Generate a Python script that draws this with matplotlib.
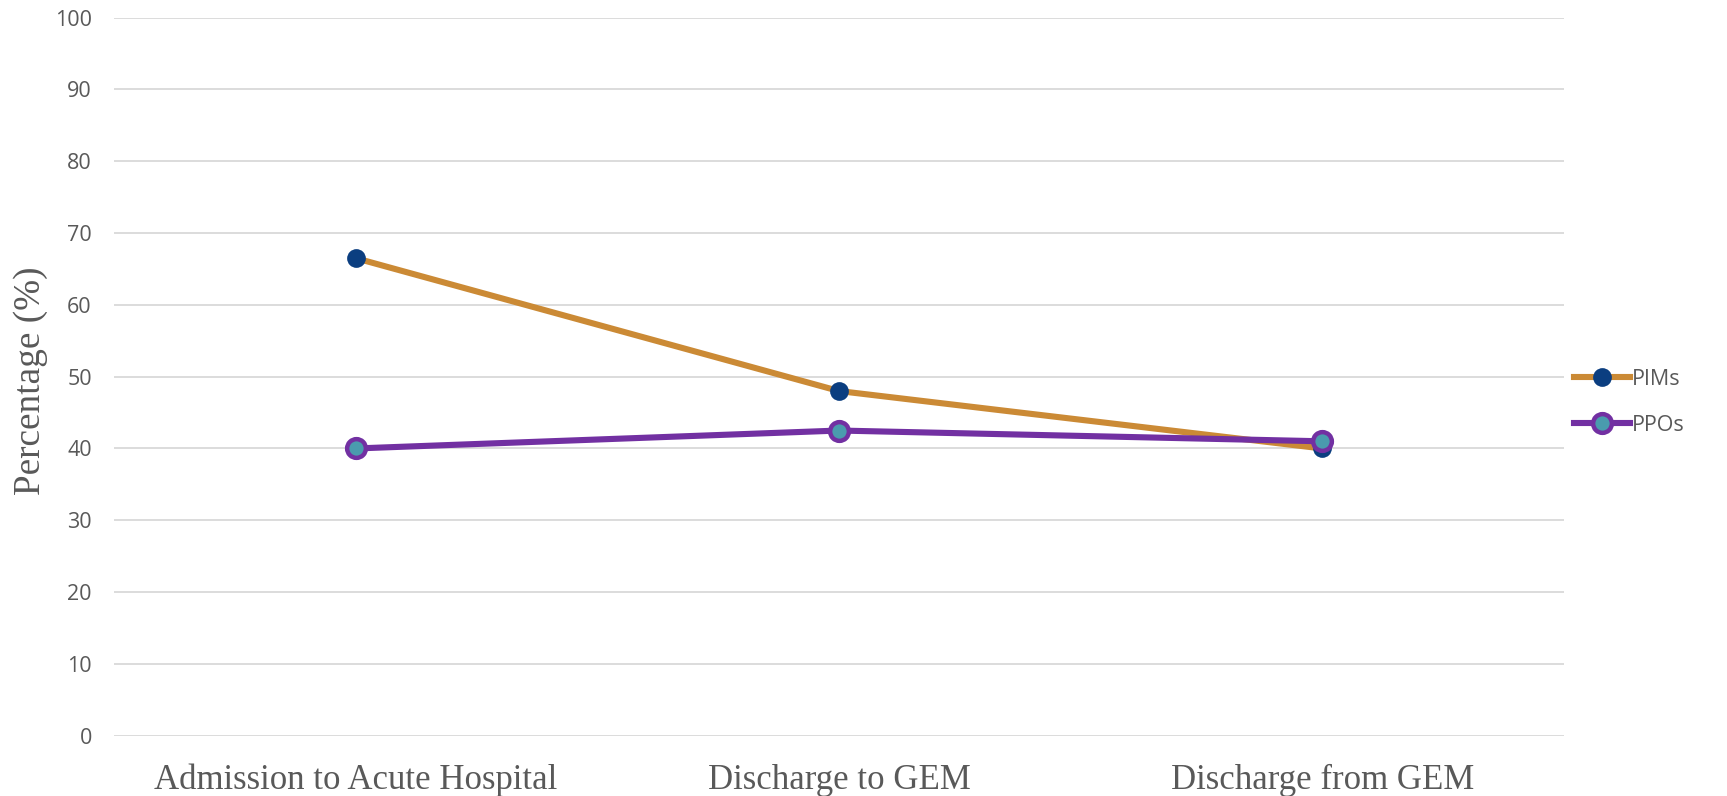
import matplotlib
matplotlib.use("Agg")
import matplotlib.pyplot as plt
from matplotlib.lines import Line2D

categories = ["Admission to Acute Hospital", "Discharge to GEM", "Discharge from GEM"]
pims = [66.5, 48, 40]
ppos = [40, 42.5, 41]
yticks = [0, 10, 20, 30, 40, 50, 60, 70, 80, 90, 100]

orange = "#CB8A35"
navy = "#0B3E80"
purple = "#7230A2"
teal = "#4A9BAE"
grid_c = "#D9D9D9"
txt_c = "#595959"

fig = plt.figure(figsize=(17.27, 7.96), dpi=100)
ax = fig.add_axes([0.066, 0.0757, 0.8396, 0.9022])

x = list(range(len(categories)))
ax.plot(x, pims, color=orange, lw=4.4, marker="o", ms=13.5,
        mfc=navy, mec=navy, mew=0, solid_capstyle="round", zorder=3, label="PIMs")
ax.plot(x, ppos, color=purple, lw=4.4, marker="o", ms=13.5,
        mfc=teal, mec=purple, mew=3.2, solid_capstyle="round", zorder=4, label="PPOs")

ax.set_xlim(-0.5, 2.5)
ax.set_ylim(0, 100)
ax.set_yticks(yticks)
ax.set_xticks(x)
ax.set_xticklabels(categories, family="Liberation Serif", fontsize=25, color=txt_c)
ax.tick_params(axis="y", length=0, pad=16, labelsize=15.5, labelcolor=txt_c)
ax.tick_params(axis="x", length=0, pad=20)
for lab in ax.get_yticklabels():
    lab.set_family("Open Sans")
ax.grid(axis="y", color=grid_c, lw=1.3)
ax.set_axisbelow(True)
for s in ax.spines.values():
    s.set_visible(False)

fig.text(0.0175, 0.522, "Percentage (%)", rotation=90, ha="center", va="center",
         family="Liberation Serif", fontsize=26.8, color=txt_c)

handles = [
    Line2D([0], [0], color=orange, lw=4.4, marker="o", ms=13.5, mfc=navy, mec=navy, mew=0),
    Line2D([0], [0], color=purple, lw=4.4, marker="o", ms=13.5, mfc=teal, mec=purple, mew=3.2),
]
leg = fig.legend(handles, ["PIMs", "PPOs"], loc="center left",
                 bbox_to_anchor=(0.900, 0.4945), frameon=False,
                 prop={"family": "Open Sans", "size": 15.5},
                 handlelength=2.6, handletextpad=0.1, labelspacing=1.15)
for t in leg.get_texts():
    t.set_color(txt_c)

fig.savefig("out.png", dpi=100, facecolor="white")
